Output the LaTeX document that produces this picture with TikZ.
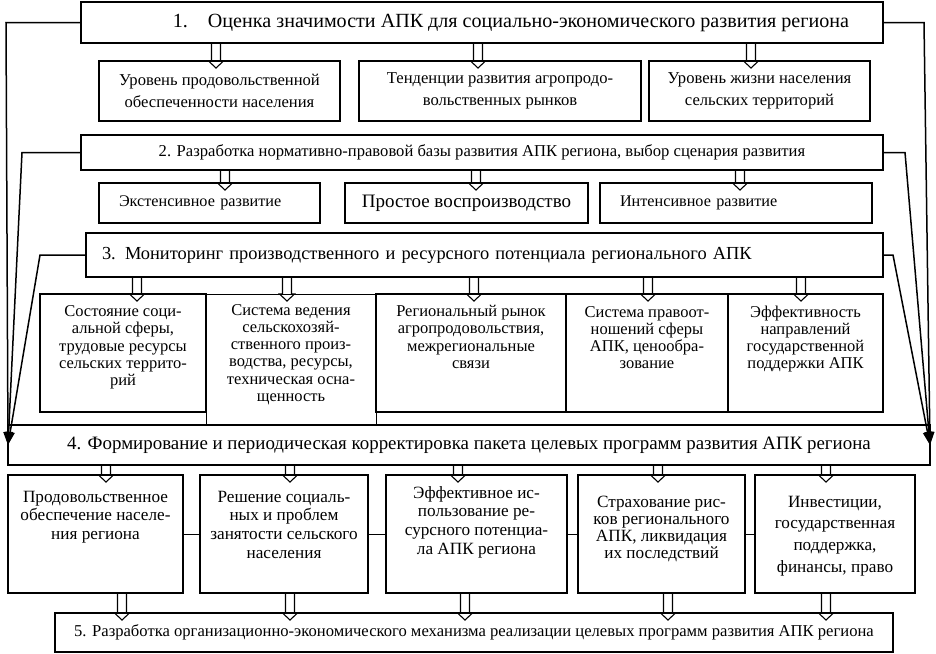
\documentclass[tikz,border=0pt]{standalone}
\usepackage{fontspec}
\setmainfont{Liberation Serif}
\usetikzlibrary{arrows.meta, calc, positioning}

% text of a cell, set from the top
\newcommand{\celltext}[4]{\parbox[c][#1][t]{#2}{\centering\rule{0pt}{#3}#4\par}}

\begin{document}
\begin{tikzpicture}[
        x=1pt, y=-1pt,
        box/.style={rectangle, draw, line width=1.5pt, inner sep=0pt, outer sep=0pt, anchor=north west, align=center},
        cell/.style={box, line width=1.2pt},
        hollow/.style={line width=1.1pt, to path={let \p1=(\tikztostart), \p2=(\tikztotarget) in
            (\x2-4.5pt,\y1) -- (\x2-4.5pt,\y2) -- (\x2-7.5pt,\y2) -- (\x2,\y2-7pt) -- (\x2+7.5pt,\y2) -- (\x2+4.5pt,\y2) -- (\x2+4.5pt,\y1)}},
        merge/.style={line width=1.1pt, to path={let \p1=(\tikztostart), \p2=(\tikztotarget) in
            (\x1-4.5pt,\y1) -- (\x1-4.5pt,\y2) -- (\x1-7.5pt,\y2) -- (\x1,\y2-7pt) -- (\x1+7.5pt,\y2) -- (\x1+4.5pt,\y2) -- (\x1+4.5pt,\y1)}},
        back/.style={line width=1.5pt, -{Triangle[length=13pt, width=9pt]}}
    ]
    \useasboundingbox (0,0) rectangle (936,653);

    % Stages
    \node (b1) [box, minimum width=802pt, minimum height=41pt, font=\fontsize{20.1}{24}\selectfont] at (81,2)
        {\hspace{58pt}1.\hspace{20pt}Оценка значимости АПК для социально-экономического развития региона};
    \node (b2) [box, minimum width=802pt, minimum height=35pt, font=\fontsize{16.6}{19}\selectfont] at (81,135)
        {2. Разработка нормативно-правовой базы развития АПК региона, выбор сценария развития};
    \node (b3) [box, minimum width=797pt, minimum height=44pt, text width=765pt, align=left, font=\fontsize{18.4}{22}\selectfont] at (86,233)
        {3. Мониторинг производственного и ресурсного потенциала регионального АПК};
    \node (b4) [box, minimum width=922pt, minimum height=40pt, font=\fontsize{18.9}{22}\selectfont] at (8,425)
        {4. Формирование и периодическая корректировка пакета целевых программ развития АПК региона};
    \node (b5) [box, minimum width=838pt, minimum height=39pt, font=\fontsize{16.6}{19}\selectfont] at (55,613)
        {5. Разработка организационно-экономического механизма реализации целевых программ развития АПК региона};

    % Level 1
    \begin{scope}[every node/.style={font=\fontsize{16.6}{22.5}\selectfont, minimum height=60pt}]
        \node (r1a) [cell, minimum width=241pt] at (99,61) {Уровень продовольственной\\обеспеченности населения};
        \node (r1b) [cell, minimum width=282pt, right=19pt of r1a] {Тенденции развития агропродо-\\вольственных рынков};
        \node (r1c) [cell, minimum width=221pt, right=8pt of r1b] {Уровень жизни населения\\сельских территорий};
    \end{scope}

    % Level 2
    \begin{scope}[every node/.style={font=\fontsize{16.2}{19}\selectfont, minimum height=40pt}]
        \node (r2a) [cell, minimum width=221pt, text width=181pt, align=left] at (99,183) {Экстенсивное развитие};
        \node (r2b) [cell, minimum width=243pt, right=25pt of r2a, font=\fontsize{19}{22}\selectfont] {Простое воспроизводство};
        \node (r2c) [cell, minimum width=272pt, text width=232pt, align=left, right=12pt of r2b] {Интенсивное развитие};
    \end{scope}

    % Level 3
    \begin{scope}[every node/.style={font=\fontsize{16.5}{17.3}\selectfont}]
        \node (r3a) [cell, minimum width=166pt, minimum height=118pt] at (40,294)
            {\celltext{118pt}{160pt}{22.5pt}{Состояние соци-\\альной сферы,\\трудовые ресурсы\\сельских террито-\\рий}};
        \node (r3b) [cell, line width=0.8pt, minimum width=170pt, minimum height=131pt] at (r3a.north east)
            {\celltext{131pt}{164pt}{21pt}{Система ведения\\сельскохозяй-\\ственного произ-\\водства, ресурсы,\\техническая осна-\\щенность}};
        \node (r3c) [cell, minimum width=190pt, minimum height=118pt] at (r3b.north east)
            {\celltext{118pt}{184pt}{22.5pt}{Региональный рынок\\агропродовольствия,\\межрегиональные\\связи}};
        \node (r3d) [cell, minimum width=162pt, minimum height=118pt] at (r3c.north east)
            {\celltext{118pt}{156pt}{23pt}{Система правоот-\\ношений сферы\\АПК, ценообра-\\зование}};
        \node (r3e) [cell, minimum width=155pt, minimum height=118pt] at (r3d.north east)
            {\celltext{118pt}{149pt}{23pt}{Эффективность\\направлений\\государственной\\поддержки АПК}};
    \end{scope}

    % Level 4
    \begin{scope}[every node/.style={font=\fontsize{17.2}{18.7}\selectfont, minimum height=118pt}]
        \node (r4a) [cell, minimum width=175pt] at (8,475)
            {\celltext{118pt}{169pt}{27pt}{Продовольственное\\обеспечение населе-\\ния региона}};
        \node (r4b) [cell, minimum width=168pt, right=17pt of r4a]
            {\celltext{118pt}{162pt}{27pt}{Решение социаль-\\ных и проблем\\занятости сельского\\населения}};
        \node (r4c) [cell, minimum width=181pt, right=18pt of r4b]
            {\celltext{118pt}{175pt}{23pt}{Эффективное ис-\\пользование ре-\\сурсного потенциа-\\ла АПК региона}};
        \node (r4d) [cell, minimum width=167pt, right=11pt of r4c, font=\fontsize{17.2}{17}\selectfont]
            {\celltext{118pt}{161pt}{32pt}{Страхование рис-\\ков регионального\\АПК, ликвидация\\их последствий}};
        \node (r4e) [cell, minimum width=160pt, right=10pt of r4d, font=\fontsize{17.2}{21.7}\selectfont]
            {\celltext{118pt}{154pt}{32pt}{Инвестиции,\\государственная\\поддержка,\\финансы, право}};
    \end{scope}

    % Links between programmes
    \draw [line width=0.6pt] (r4a) -- (r4b);
    \draw [line width=0.6pt] (r4b) -- (r4c);
    \draw [line width=0.6pt] (r4c) -- (r4d);
    \draw [line width=0.6pt] (r4d) -- (r4e);

    % Down flow
    \draw [hollow] (b1.south) to ([xshift=-3.5pt]r1a.north);
    \draw [hollow] (b1.south) to ([xshift=-22pt]r1b.north);
    \draw [hollow] (b1.south) to ([xshift=-8.5pt]r1c.north);
    \draw [hollow] (b2.south) to ([xshift=15.5pt]r2a.north);
    \draw [hollow] (b2.south) to ([xshift=9.5pt]r2b.north);
    \draw [hollow] (b2.south) to ([xshift=4pt]r2c.north);
    \draw [hollow] (b3.south) to ([xshift=14pt]r3a.north);
    \draw [hollow] (b3.south) to ([xshift=-4pt]r3b.north);
    \draw [hollow] (b3.south) to ([xshift=3pt]r3c.north);
    \draw [hollow] (b3.south) to ([xshift=1pt]r3d.north);
    \draw [hollow] (b3.south) to ([xshift=-4.5pt]r3e.north);
    \draw [hollow] (b4.south) to ([xshift=10.5pt]r4a.north);
    \draw [hollow] (b4.south) to ([xshift=6pt]r4b.north);
    \draw [hollow] (b4.south) to ([xshift=-18.5pt]r4c.north);
    \draw [hollow] (b4.south) to ([xshift=-3.5pt]r4d.north);
    \draw [hollow] (b4.south) to ([xshift=-9pt]r4e.north);
    \draw [merge] ([xshift=26.5pt]r4a.south) to (b5.north);
    \draw [merge] ([xshift=6pt]r4b.south) to (b5.north);
    \draw [merge] ([xshift=-11.5pt]r4c.south) to (b5.north);
    \draw [merge] ([xshift=6.5pt]r4d.south) to (b5.north);
    \draw [merge] ([xshift=-9pt]r4e.south) to (b5.north);

    % Return to programmes
    \draw [back] (b1.west) -- ++(-75pt,0) -- (b4.west);
    \draw [back] (b2.west) -- ++(-59pt,0) -- (b4.west);
    \draw [back] (b3.west) -- ++(-46pt,0) -- (b4.west);
    \draw [back] (b1.east) -- ++(41pt,0) -- (b4.east);
    \draw [back] (b2.east) -- ++(22pt,0) -- (b4.east);
    \draw [back] (b3.east) -- ++(10pt,0) -- (b4.east);

\end{tikzpicture}
\end{document}
